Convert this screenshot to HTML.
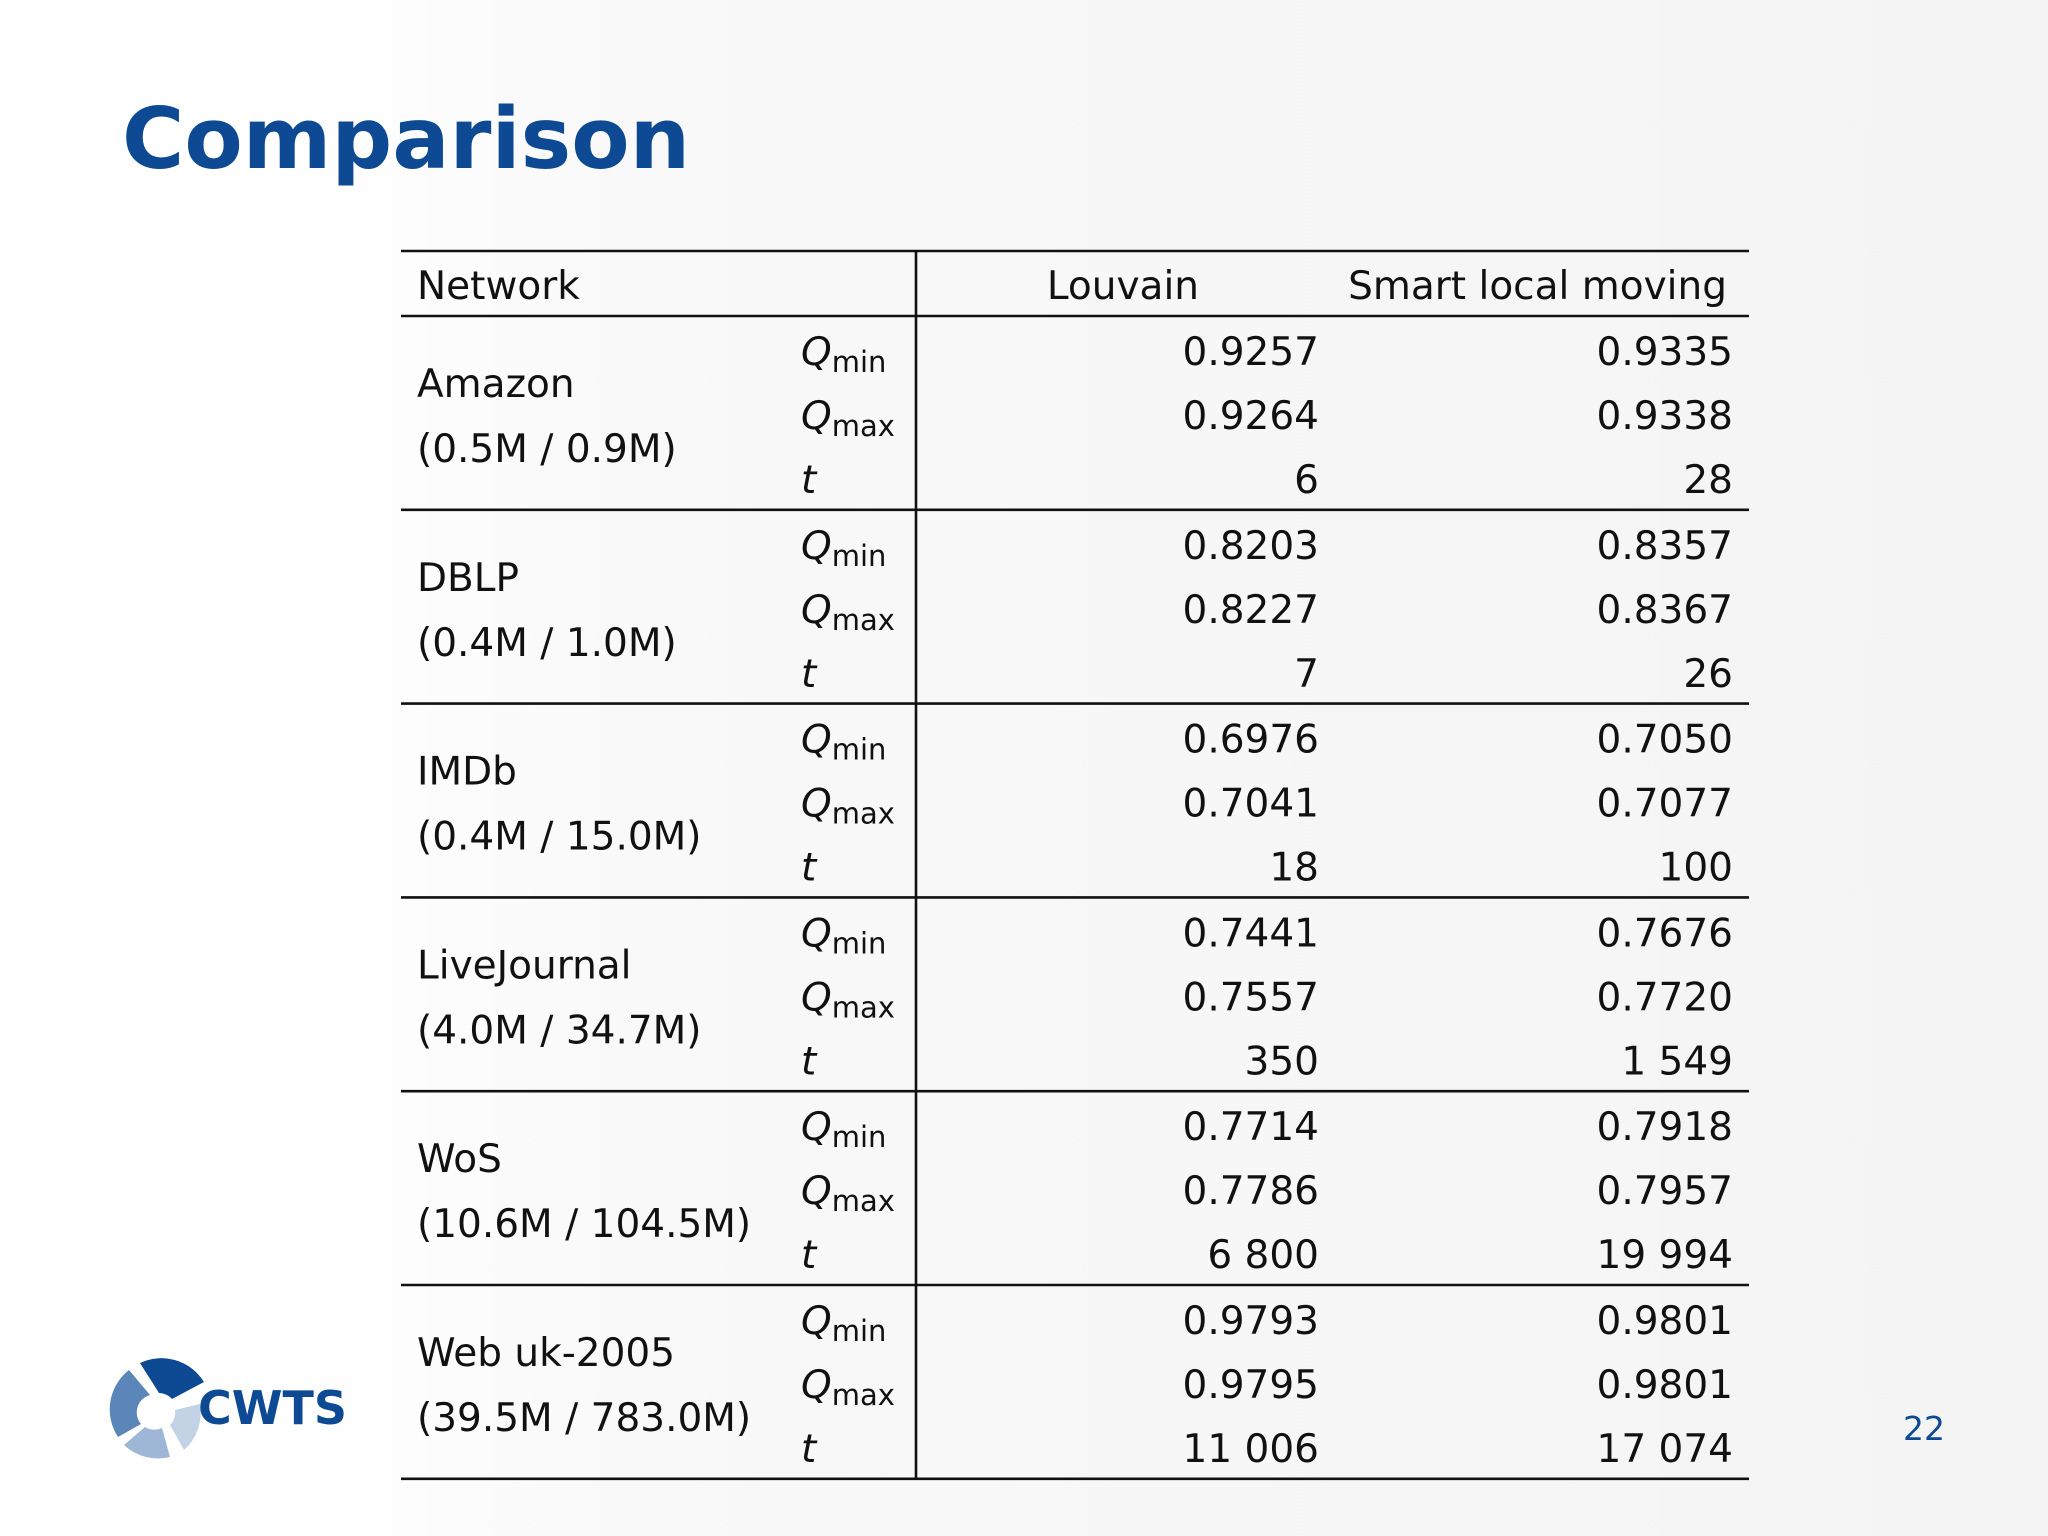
<!DOCTYPE html>
<html><head><meta charset="utf-8"><style>
html,body{margin:0;padding:0;width:2048px;height:1536px;overflow:hidden;background:#fff}
svg{display:block;overflow:hidden}
text{font-family:"DejaVu Sans","Liberation Sans",sans-serif;fill:#111}
</style></head><body>
<svg id="slide" width="2048" height="1536" viewBox="0 0 2048 1536" xmlns="http://www.w3.org/2000/svg">
<defs>
<linearGradient id="bg" x1="0" y1="0" x2="1" y2="0">
<stop offset="0" stop-color="#ffffff"/><stop offset="0.15" stop-color="#ffffff"/><stop offset="0.3" stop-color="#f9f9f9"/><stop offset="1" stop-color="#f4f4f4"/>
</linearGradient>
</defs>
<rect x="0" y="0" width="2048" height="1536" fill="url(#bg)"/>
<text x="122" y="168" font-size="85" font-weight="bold" style="fill:#0d4a93">Comparison</text>
<g id="table"></g>
<g>
<path d="M140,1363 A50,50 0 0 1 204,1382 L172,1399 A18,18 0 0 0 159,1393 Z" fill="#0d4a93"/>
<path d="M129,1370 A50,50 0 0 0 118,1437 L141,1424 A18,18 0 0 1 150,1395 Z" fill="#5b86ba"/>
<path d="M124,1445 A50,50 0 0 0 170,1457 L162,1428 A18,18 0 0 1 145,1427 Z" fill="#9fb7d6"/>
<path d="M184,1450 A50,50 0 0 0 200,1404 L175,1410 A18,18 0 0 1 170,1425 Z" fill="#c4d2e6"/>
<text x="198" y="1424" font-size="46" font-weight="bold" style="fill:#0d4a93;font-family:'DejaVu Sans',sans-serif">CWTS</text>
</g>
<text x="1903" y="1440" font-size="33" style="fill:#0d4a93">22</text>
</svg>
<script>
const networks=["Amazon","DBLP","IMDb","LiveJournal","WoS","Web uk-2005"];
const sizes=["(0.5M / 0.9M)","(0.4M / 1.0M)","(0.4M / 15.0M)","(4.0M / 34.7M)","(10.6M / 104.5M)","(39.5M / 783.0M)"];
const louvain=[["0.9257","0.9264","6"],["0.8203","0.8227","7"],["0.6976","0.7041","18"],["0.7441","0.7557","350"],["0.7714","0.7786","6 800"],["0.9793","0.9795","11 006"]];
const slm=[["0.9335","0.9338","28"],["0.8357","0.8367","26"],["0.7050","0.7077","100"],["0.7676","0.7720","1 549"],["0.7918","0.7957","19 994"],["0.9801","0.9801","17 074"]];
const NS="http://www.w3.org/2000/svg";
const g=document.getElementById('table');
const L=401,R=1749,VX=916,TOP=251,HB=316,GH=193.8;
function line(x1,y1,x2,y2,name){const l=document.createElementNS(NS,'line');
l.setAttribute('x1',x1);l.setAttribute('y1',y1);l.setAttribute('x2',x2);l.setAttribute('y2',y2);
l.setAttribute('stroke','#111');l.setAttribute('stroke-width','2.6');


g.appendChild(l);}
function txt(x,y,s,anchor,name,extra){const t=document.createElementNS(NS,'text');
t.setAttribute('x',x);t.setAttribute('y',y);t.setAttribute('font-size','39');
if(anchor)t.setAttribute('text-anchor',anchor);
if(extra)t.innerHTML=extra;else t.textContent=s;


g.appendChild(t);return t;}
line(L,TOP,R,TOP,'table-top-rule');
line(L,HB,R,HB,'header-rule');
line(VX,TOP,VX,HB+GH*networks.length,'column-divider');
txt(417,299,'Network',null,'header-network');
txt(1199,299,'Louvain','end','header-louvain');
txt(1727,299,'Smart local moving','end','header-slm');
const lbl=['<tspan font-style="italic">Q</tspan><tspan font-size="29" dy="7">min</tspan>','<tspan font-style="italic">Q</tspan><tspan font-size="29" dy="7">max</tspan>','<tspan font-style="italic">t</tspan>'];
const lblName=['q-min','q-max','t'];
networks.forEach((n,i)=>{
 const gt=HB+GH*i;
 txt(417,gt+81,n,null,'network-name');
 txt(417,gt+146,sizes[i],null,'network-size');
 for(let r=0;r<3;r++){
  const y=gt+49+r*64;
  txt(801,y,'','start','row-label-'+lblName[r],lbl[r]);
  txt(1319,y,louvain[i][r],'end','louvain-value');
  txt(1733,y,slm[i][r],'end','slm-value');
 }
 line(L,gt+GH,R,gt+GH,'group-rule');
});
</script>
</body></html>
